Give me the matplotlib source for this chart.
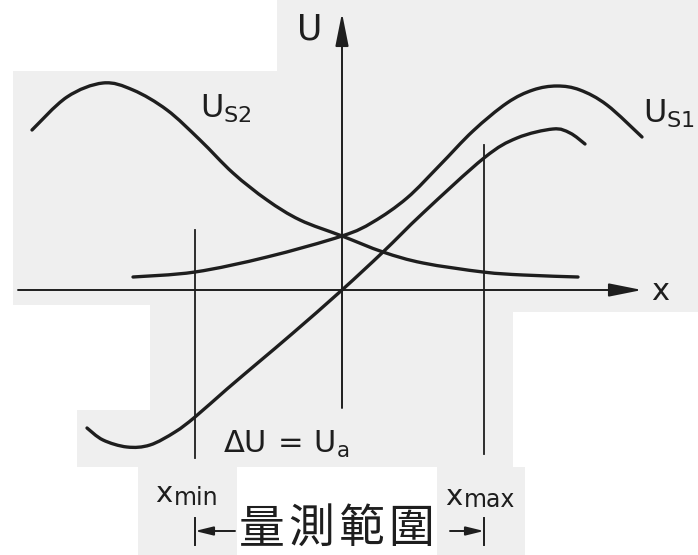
import numpy as np
import matplotlib
matplotlib.use('Agg')
import matplotlib.pyplot as plt
from matplotlib.path import Path
from matplotlib.patches import PathPatch, Rectangle
from matplotlib.transforms import Affine2D

plt.rcParams['font.family'] = ['DejaVu Sans']
plt.rcParams['mathtext.default'] = 'regular'

# sensor signals along the displacement x (arbitrary units)
us2_x = [-3.10, -2.75, -2.39, -2.09, -1.75, -1.42, -1.09, -0.75, -0.42, 0.00, 0.41, 0.81, 1.41, 1.81, 2.36]
us2_y = [1.60, 1.93, 2.07, 2.00, 1.80, 1.50, 1.17, 0.90, 0.70, 0.54, 0.38, 0.27, 0.18, 0.15, 0.13]

us1_x = [-2.09, -1.47, -0.75, 0.00, 0.31, 0.65, 0.98, 1.31, 1.65, 1.91, 2.15, 2.38, 2.65, 3.00]
us1_y = [0.13, 0.18, 0.33, 0.54, 0.68, 0.92, 1.25, 1.59, 1.87, 2.00, 2.04, 2.00, 1.85, 1.53]

# difference signal dU = Us1 - Us2 = Ua
du_x = [-2.55, -2.39, -2.15, -1.92, -1.67, -1.47, -1.15, -0.82, -0.49, 0.00, 0.41, 0.81, 1.42, 1.75, 2.11, 2.28, 2.43]
du_y = [-1.38, -1.50, -1.57, -1.55, -1.42, -1.27, -0.99, -0.71, -0.43, 0.00, 0.38, 0.77, 1.32, 1.52, 1.61, 1.57, 1.46]

x_min = -1.47
x_max = 1.42

INK = '#1e1e1e'


def smooth_path(xs, ys):
    # Catmull-Rom through the points, written as cubic Bezier segments
    p = np.column_stack([xs, ys]).astype(float)
    p = np.vstack([p[0], p, p[-1]])
    verts = [p[1]]
    codes = [Path.MOVETO]
    for i in range(1, len(p) - 2):
        c1 = p[i] + (p[i + 1] - p[i - 1]) / 6.0
        c2 = p[i + 1] - (p[i + 2] - p[i]) / 6.0
        verts += [c1, c2, p[i + 1]]
        codes += [Path.CURVE4] * 3
    return Path(verts, codes)


fig = plt.figure(figsize=(6.98, 5.55), dpi=100)
fig.patch.set_facecolor('white')

ax = fig.add_axes([0, 0, 1, 1])
ax.patch.set_alpha(0)
ax.set_xlim(-3.42, 3.56)
ax.set_ylim(-2.65, 2.90)
ax.axis('off')

# grey paper blocks of the scanned page, in image pixels
pix = Affine2D().scale(1 / 698, -1 / 555).translate(0, 1) + fig.transFigure
paper = [(277, 0, 421, 71), (13, 71, 685, 234), (150, 305, 363, 162),
         (513, 305, 185, 7), (77, 410, 73, 57), (138, 467, 99, 88), (437, 467, 88, 88)]
for bx, by, bw, bh in paper:
    ax.add_patch(Rectangle((bx, by), bw, bh, transform=pix, clip_on=False,
                           facecolor='#efefef', edgecolor='none', zorder=-5))

# axes with arrow heads
head = '-|>,head_length=1.35,head_width=0.27'
ax.annotate('', xy=(3.00, 0), xytext=(-3.24, 0),
            arrowprops=dict(arrowstyle=head, mutation_scale=15, color=INK, lw=1.4,
                            shrinkA=0, shrinkB=0))
ax.annotate('', xy=(0, 2.77), xytext=(0, -1.18),
            arrowprops=dict(arrowstyle=head, mutation_scale=15, color=INK, lw=1.4,
                            shrinkA=0, shrinkB=0))

# limits of the measuring range
ax.plot([x_min, x_min], [0.60, -1.68], color=INK, lw=1.3)
ax.plot([x_max, x_max], [1.45, -1.64], color=INK, lw=1.3)

for xs, ys in [(us2_x, us2_y), (us1_x, us1_y), (du_x, du_y)]:
    ax.add_patch(PathPatch(smooth_path(xs, ys), facecolor='none', edgecolor=INK,
                           lw=2.4, capstyle='round'))

# labels
ax.text(-0.32, 2.50, 'U', fontsize=25, color=INK, ha='center', va='baseline')
ax.text(3.18, -0.10, 'x', fontsize=22, color=INK, ha='center', va='baseline')
ax.text(-1.42, 1.72, r'$U_{S2}$', fontsize=23, color=INK, ha='left', va='baseline')
ax.text(3.01, 1.67, r'$U_{S1}$', fontsize=23, color=INK, ha='left', va='baseline')
ax.text(-1.19, -1.63, r'$\Delta U\,=\,U_a$', fontsize=22, color=INK, ha='left', va='baseline')
ax.text(-1.87, -2.12, 'x', fontsize=21, color=INK, ha='left', va='baseline')
ax.text(-1.68, -2.15, 'min', fontsize=17, color=INK, ha='left', va='baseline')
ax.text(1.03, -2.15, 'x', fontsize=21, color=INK, ha='left', va='baseline')
ax.text(1.22, -2.17, 'max', fontsize=17, color=INK, ha='left', va='baseline')

# measuring range bracket
ax.plot([x_min, x_min], [-2.28, -2.55], color=INK, lw=1.4)
ax.plot([x_max, x_max], [-2.28, -2.55], color=INK, lw=1.4)
small = '-|>,head_length=0.9,head_width=0.22'
ax.annotate('', xy=(x_min, -2.41), xytext=(-1.07, -2.41),
            arrowprops=dict(arrowstyle=small, mutation_scale=12, color=INK, lw=1.4,
                            shrinkA=0, shrinkB=0))
ax.annotate('', xy=(x_max, -2.41), xytext=(1.08, -2.41),
            arrowprops=dict(arrowstyle=small, mutation_scale=12, color=INK, lw=1.4,
                            shrinkA=0, shrinkB=0))

caption = '量測範圍'
for i, ch in enumerate(caption):
    ax.text(-0.805 + 0.5 * i, -2.39, ch, fontsize=33, color=INK, ha='center', va='center',
            family=['Noto Sans CJK TC', 'DejaVu Sans'])

fig.savefig('out.png', dpi=100, facecolor=fig.get_facecolor())
